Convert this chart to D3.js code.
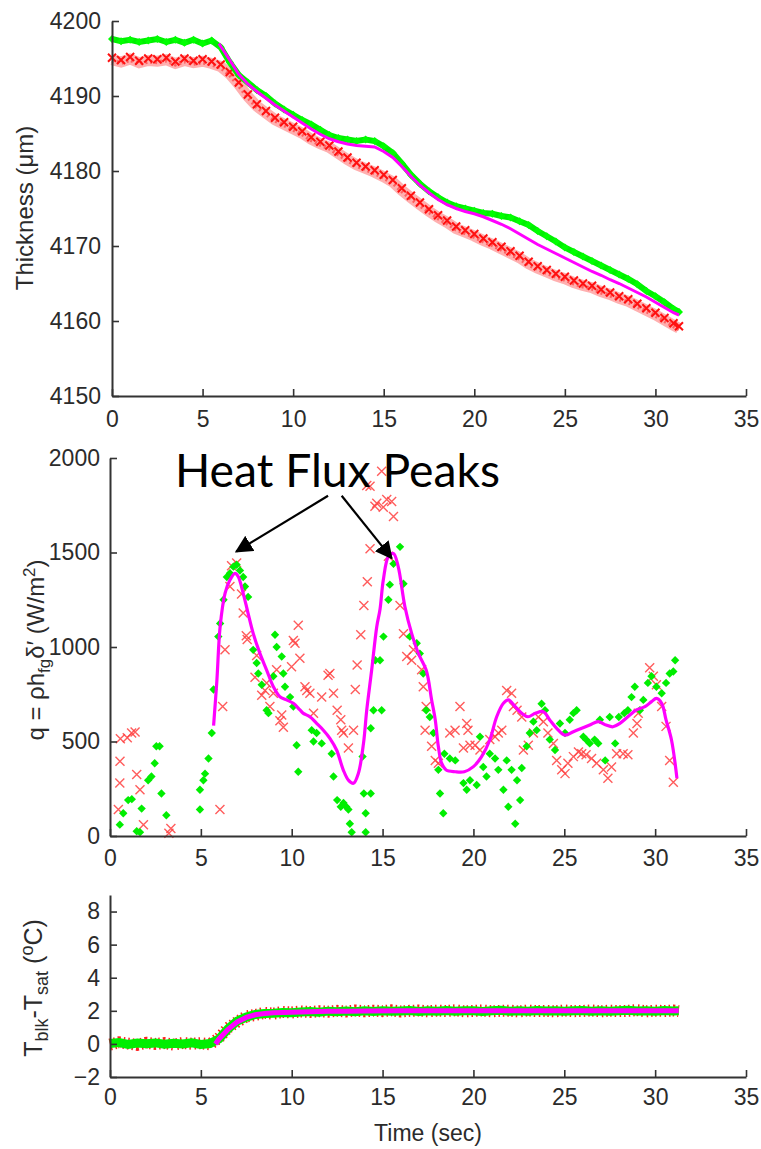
<!DOCTYPE html>
<html><head><meta charset="utf-8">
<script src="https://cdn.jsdelivr.net/npm/d3@7"></script>
<style>body{margin:0;background:#fff}svg{display:block}</style>
</head><body>
<svg id="chart" width="761" height="1149"></svg>
<script>
// ---------- DATA ----------
const xTicks = [0,5,10,15,20,25,30,35];
const thickTicks = [4150,4160,4170,4180,4190,4200];
const fluxTicks = [0,500,1000,1500,2000];
const tempTicks = [-2,0,2,4,6,8];

const timeGrid = [0,0.5,1,1.5,2,2.5,3,3.5,4,4.5,5,5.5,6,6.5,7,7.5,8,8.5,9,9.5,10,10.5,11,11.5,12,12.5,13,13.5,14,14.5,15,15.5,16,16.5,17,17.5,18,18.5,19,19.5,20,20.5,21,21.5,22,22.5,23,23.5,24,24.5,25,25.5,26,26.5,27,27.5,28,28.5,29,29.5,30,30.5,31,31.3];

const thickGreen = [4197.6,4197.3,4197.5,4197.2,4197.4,4197.6,4197.2,4197.5,4197.1,4197.5,4197.0,4197.4,4196.5,4194.5,4192.8,4191.8,4190.8,4190.0,4189.0,4188.2,4187.5,4186.8,4186.2,4185.5,4184.8,4184.4,4184.2,4184.0,4184.2,4184.0,4183.3,4182.4,4181.0,4179.5,4178.3,4177.3,4176.5,4175.8,4175.3,4175.0,4174.7,4174.4,4174.3,4174.0,4173.8,4173.3,4172.8,4172.0,4171.3,4170.6,4169.8,4169.2,4168.6,4168.0,4167.4,4166.8,4166.2,4165.6,4164.9,4164.0,4163.3,4162.5,4161.6,4161.2];
const thickRed = [4195.1,4194.8,4195.2,4194.7,4195.0,4194.9,4195.1,4194.6,4195.0,4194.7,4194.9,4194.6,4194.2,4193.2,4191.8,4190.2,4188.9,4188.0,4187.1,4186.5,4185.9,4185.3,4184.5,4183.9,4183.4,4182.6,4181.8,4181.1,4180.6,4180.1,4179.5,4178.8,4177.7,4176.7,4175.8,4174.9,4174.1,4173.4,4172.6,4172.1,4171.6,4171.0,4170.5,4169.9,4169.3,4168.7,4167.9,4167.3,4166.8,4166.3,4165.9,4165.4,4165.0,4164.7,4164.2,4163.8,4163.3,4162.9,4162.3,4161.7,4161.1,4160.4,4159.7,4159.3];
const thickFitTime = [5.9,6.5,7,7.5,8,8.5,9,9.5,10,10.5,11,11.5,12,12.5,13,13.5,14,14.5,15,15.5,16,16.5,17,17.5,18,18.5,19,19.5,20,20.5,21,21.5,22,22.5,23,23.5,24,24.5,25,25.5,26,26.5,27,27.5,28,28.5,29,29.5,30,30.5,31,31.3];
const thickFit = [4197.0,4194.8,4192.9,4191.6,4190.6,4189.7,4188.8,4188.0,4187.2,4186.4,4185.6,4184.9,4184.3,4183.9,4183.6,4183.4,4183.3,4183.2,4182.6,4181.8,4180.6,4179.3,4178.1,4177.1,4176.2,4175.5,4175.0,4174.6,4174.3,4173.9,4173.4,4172.9,4172.3,4171.6,4170.9,4170.2,4169.6,4169.0,4168.4,4167.8,4167.2,4166.6,4166.1,4165.5,4165.0,4164.4,4163.8,4163.2,4162.5,4161.8,4161.1,4160.8];

const fluxRed = [[0.46,140],[0.54,280],[0.55,395],[0.57,515],[0.95,520],[1.19,545],[1.38,550],[1.47,325],[1.65,245],[1.84,60],[3.24,15],[3.35,40],
[6.05,140],[6.2,685],[6.33,985],[6.6,1320],[6.69,1430],[6.97,1445],[7.24,1280],[7.33,1180],[7.5,1060],[7.55,1040],[7.98,840],[8.07,955],[8.35,745],[8.53,770],[8.62,810],[8.8,685],[8.99,755],[9.17,880],[9.35,610],[9.45,640],[9.54,575],[9.99,895],[10.09,1035],[10.18,1020],[10.36,1115],[10.45,940],[10.73,790],[10.83,770],[11.0,755],[11.2,650],[11.65,735],[12.0,850],[12.1,860],[12.3,755],[12.5,665],[12.7,615],[12.75,560],[12.85,545],[13.12,465],[13.4,560],[13.5,775],[13.6,905],[13.8,1065],[13.97,1220],[14.16,1345],[14.13,1855],[14.31,1850],[14.31,1520],[14.58,1745],[14.68,1760],[14.95,1930],[15.04,1740],[15.23,1780],[15.32,1480],[15.5,1770],[15.6,1690],[15.96,1220],[16.15,1070],[16.33,950],[16.6,930],[16.7,985],[17.15,880],[17.24,790],[17.4,685],[17.34,560],[17.7,475],[17.9,400],[18.07,385],[18.7,545],[18.99,560],[19.26,685],[19.63,595],[19.7,560],[19.45,465],[19.81,480],[20.09,480],[20.36,455],[20.9,510],[21.19,525],[21.37,545],[21.56,560],[21.83,770],[22.1,755],[22.2,685],[22.4,665],[22.66,630],[22.75,455],[23.02,480],[23.3,545],[23.57,630],[23.85,605],[24.1,545],[24.4,490],[24.58,400],[24.86,350],[25.04,330],[25.2,385],[25.5,420],[25.78,445],[25.96,435],[26.2,430],[26.5,410],[26.78,385],[27.15,350],[27.4,305],[27.6,365],[27.88,435],[28.24,435],[28.5,430],[28.8,545],[29.0,595],[29.07,650],[29.7,890],[29.9,845],[30.07,800],[30.36,685],[30.6,580],[30.8,400],[31.0,285]];
const fluxGreen = [[0.54,60],[0.73,120],[1.0,190],[1.2,195],[1.47,25],[1.65,20],[1.74,145],[2.1,295],[2.28,315],[2.46,385],[2.55,475],[2.73,475],[2.83,225],[3.1,110],
[4.95,140],[4.95,245],[5.14,295],[5.23,330],[5.42,410],[5.6,545],[5.7,775],[5.96,1055],[6.06,1125],[6.25,1250],[6.43,1370],[6.6,1390],[6.79,1425],[6.97,1435],[7.15,1405],[7.33,1370],[7.43,1320],[7.6,1265],[7.88,985],[8.07,915],[8.16,860],[8.35,800],[8.62,665],[8.72,650],[8.99,845],[9.08,1065],[9.17,1000],[9.45,950],[9.54,860],[9.63,790],[9.91,735],[10.09,685],[10.27,480],[10.36,340],[11.1,560],[11.2,500],[11.37,545],[11.65,490],[12.2,435],[12.3,315],[12.5,190],[12.7,155],[12.85,175],[13.0,155],[13.12,140],[13.2,65],[13.3,20],[13.9,420],[13.97,225],[14.07,120],[14.07,20],[14.35,225],[14.35,570],[14.5,665],[14.6,930],[14.86,930],[14.95,665],[15.05,1055],[15.32,1250],[15.4,1330],[15.6,1440],[15.96,1530],[16.15,1335],[16.5,1055],[16.88,1020],[17.05,965],[17.24,860],[17.4,665],[17.6,630],[17.8,545],[18.07,350],[18.16,225],[18.34,120],[18.4,435],[18.7,410],[19.0,400],[19.45,280],[19.63,245],[19.81,295],[20.18,270],[20.36,525],[20.54,365],[20.72,315],[20.9,435],[21.19,410],[21.37,350],[21.65,245],[21.83,400],[21.92,155],[22.1,350],[22.3,65],[22.4,295],[22.57,190],[22.66,360],[22.93,475],[23.1,545],[23.3,605],[23.48,560],[23.75,700],[23.94,665],[24.2,510],[24.49,455],[24.76,595],[25.04,545],[25.3,615],[25.5,650],[25.68,665],[26.05,525],[26.2,510],[26.4,490],[26.67,510],[26.87,490],[26.96,615],[27.25,400],[27.5,630],[27.8,490],[28.0,630],[28.3,650],[28.5,665],[28.7,735],[28.88,790],[29.16,665],[29.35,720],[29.6,810],[29.8,845],[30.07,790],[30.36,755],[30.6,810],[30.8,860],[31.0,870],[31.1,930]];
const fluxFit = [[5.7,584],[5.88,820],[6.06,1107],[6.33,1284],[6.6,1354],[6.88,1390],[7.06,1372],[7.33,1284],[7.6,1178],[7.88,1072],[8.25,966],[8.62,878],[8.99,790],[9.35,737],[9.72,720],[10.09,702],[10.45,667],[10.64,649],[11.0,631],[11.37,596],[11.73,561],[12.1,517],[12.47,455],[12.84,349],[13.12,296],[13.4,279],[13.67,332],[13.95,490],[14.13,667],[14.4,878],[14.68,1107],[14.86,1200],[15.04,1354],[15.32,1478],[15.6,1495],[15.86,1425],[16.23,1213],[16.6,1072],[16.97,966],[17.4,878],[17.7,720],[17.9,614],[18.07,473],[18.25,385],[18.5,349],[19.0,340],[19.5,340],[20.0,367],[20.45,420],[20.9,508],[21.28,631],[21.65,702],[21.92,720],[22.3,684],[22.66,649],[23.0,631],[23.4,649],[23.85,658],[24.2,614],[24.58,570],[25.04,534],[25.5,552],[25.96,570],[26.4,587],[26.87,605],[27.3,587],[27.68,578],[28.06,596],[28.5,631],[28.97,667],[29.44,684],[29.8,711],[30.07,728],[30.36,702],[30.6,614],[30.9,508],[31.2,305]];

const tempGreen = [0.02,0.08,-0.03,0.05,0.01,0.06,-0.02,0.04,0.0,0.07,-0.03,0.02,0.3,0.92,1.38,1.62,1.78,1.84,1.86,1.9,1.88,1.93,1.96,1.92,1.98,1.94,1.99,1.95,2.0,1.96,2.01,1.97,1.99,2.02,1.96,2.0,1.98,2.02,1.97,2.0,2.01,1.96,2.0,2.03,1.98,2.0,1.97,2.02,1.99,2.01,1.97,2.0,2.02,1.98,2.0,1.97,2.01,2.03,1.99,2.0,1.98,2.02,1.99,2.0];
const tempRed = [-0.04,0.1,0.02,-0.06,0.07,0.0,0.05,-0.05,0.06,0.01,0.04,-0.02,0.36,0.98,1.33,1.66,1.75,1.88,1.83,1.93,1.9,1.96,1.93,1.97,1.95,2.0,1.96,2.02,1.97,2.01,1.98,2.03,1.96,2.0,2.02,1.97,2.01,1.99,2.03,1.97,1.99,2.02,1.97,2.0,2.01,1.96,2.02,1.98,2.0,1.97,2.02,1.98,1.99,2.02,1.97,2.01,1.98,2.0,2.04,1.97,2.01,1.99,2.02,1.98];
const tempFitTime = [5.8,6,6.5,7,7.5,8,8.5,9,10,11,12,13,14,16,18,20,22,24,26,28,30,31.3];
const tempFit = [0.0,0.3,0.88,1.33,1.6,1.76,1.84,1.88,1.92,1.95,1.97,1.98,1.99,2.0,2.0,2.0,2.0,2.0,2.0,2.0,2.0,2.0];

// ---------- DRAW ----------
const svg = d3.select('#chart');
svg.append('rect').attr('width',761).attr('height',1149).attr('fill','#fff');
const FONT = "'Liberation Sans', Arial, sans-serif";
const AX = '#333';

function axes(x, y, yTicks, padX, padY) {
  const gx = svg.append('g').attr('transform',`translate(0,${y.range()[0]})`);
  gx.call(d3.axisBottom(x).tickValues(d3.range(0,36,1)).tickSize(-4).tickSizeOuter(0).tickFormat(''));
  gx.call(d3.axisBottom(x).tickValues(xTicks).tickSize(-7).tickSizeOuter(0).tickPadding(padX).tickFormat(d3.format('d')));
  const gy = svg.append('g').attr('transform',`translate(${x.range()[0]},0)`);
  gy.call(d3.axisLeft(y).tickValues(yTicks).tickSize(-7).tickSizeOuter(0).tickPadding(padY).tickFormat(d3.format('d')));
  [gx,gy].forEach(g=>{
    g.selectAll('path.domain').attr('stroke',AX).attr('stroke-width',2);
    g.selectAll('line').attr('stroke',AX).attr('stroke-width',1.6);
    g.selectAll('text').attr('fill','#2b2b2b').style('font-family',FONT).style('font-size','23px');
  });
}
function xMark(sel, size){ // draw "x" markers
  sel.append('path').attr('d',`M${-size},${-size}L${size},${size}M${-size},${size}L${size},${-size}`);
}
const diamond = r => `M0,${-r}L${r},0L0,${r}L${-r},0Z`;

// ===== Panel 1: Thickness =====
const x1 = d3.scaleLinear().domain([0,35]).range([112,746]);
const y1 = d3.scaleLinear().domain([4150,4200]).range([396,21]);
const line1 = d3.line().x(d=>x1(d[0])).y(d=>y1(d[1]));
const redPts1 = timeGrid.map((t,i)=>[t,thickRed[i]]);
const greenPts1 = timeGrid.map((t,i)=>[t,thickGreen[i]]);
svg.append('path').datum(redPts1).attr('d',line1).attr('fill','none').attr('stroke','#ffb0b0').attr('stroke-width',11)
  .attr('transform','translate(0,2)');
svg.append('path').datum(redPts1).attr('d',line1).attr('fill','none').attr('stroke','#ff6060').attr('stroke-width',4).attr('stroke-dasharray','2 3')
  .attr('transform','translate(0,3)');
svg.append('g').attr('stroke','#ff1010').attr('stroke-width',2).selectAll('g').data(redPts1).join('g')
  .attr('transform',d=>`translate(${x1(d[0])},${y1(d[1])})`).call(xMark,4);
svg.append('path').datum(greenPts1).attr('d',line1).attr('fill','none').attr('stroke','#00f000').attr('stroke-width',6);
svg.append('g').selectAll('path').data(greenPts1).join('path').attr('fill','#00ff00')
  .attr('transform',d=>`translate(${x1(d[0])},${y1(d[1])})`).attr('d',diamond(4));
svg.append('path').datum(thickFitTime.map((t,i)=>[t,thickFit[i]])).attr('d',line1)
  .attr('fill','none').attr('stroke','#ff00ff').attr('stroke-width',3);
axes(x1,y1,thickTicks,15,11);
svg.append('text').attr('transform','translate(33,208) rotate(-90)').attr('text-anchor','middle')
  .style('font-family',FONT).style('font-size','24px').attr('fill','#2b2b2b').text('Thickness (\u03bcm)');

// ===== Panel 2: Heat flux =====
const x2 = d3.scaleLinear().domain([0,35]).range([110,746]);
const y2 = d3.scaleLinear().domain([0,2000]).range([836,458]);
svg.append('g').attr('stroke','#ff4040').attr('stroke-opacity',0.85).attr('stroke-width',1.4)
  .selectAll('g').data(fluxRed).join('g')
  .attr('transform',d=>`translate(${x2(d[0])},${y2(d[1])})`).call(xMark,4.5);
svg.append('g').selectAll('path').data(fluxGreen).join('path').attr('fill','#00ee00')
  .attr('transform',d=>`translate(${x2(d[0])},${y2(d[1])})`).attr('d',diamond(4.2));
svg.append('path').datum(fluxFit).attr('d',d3.line().x(d=>x2(d[0])).y(d=>y2(d[1])).curve(d3.curveCatmullRom))
  .attr('fill','none').attr('stroke','#ff00ff').attr('stroke-width',3.2);
axes(x2,y2,fluxTicks,14,10);
const lab2 = svg.append('text').attr('transform','translate(44,650) rotate(-90)').attr('text-anchor','middle')
  .style('font-family',FONT).style('font-size','24px').attr('fill','#2b2b2b');
lab2.append('tspan').text('q = \u03c1h');
lab2.append('tspan').attr('dy',6).style('font-size','17px').text('fg');
lab2.append('tspan').attr('dy',-6).text('\u03b4\u2032 (W/m');
lab2.append('tspan').attr('dy',-9).style('font-size','17px').text('2');
lab2.append('tspan').attr('dy',9).text(')');

// annotation
svg.append('text').attr('x',175).attr('y',487).attr('textLength',325).attr('lengthAdjust','spacingAndGlyphs')
  .style('font-family',"Lato, 'Open Sans', sans-serif").style('font-size','46px').attr('fill','#000').text('Heat Flux Peaks');
const defs = svg.append('defs');
defs.append('marker').attr('id','ah').attr('viewBox','0 0 10 10').attr('refX',9).attr('refY',5)
  .attr('markerWidth',8).attr('markerHeight',8).attr('orient','auto')
  .append('path').attr('d','M0,0L10,5L0,10Z').attr('fill','#000');
const arrows = [[[12.0,1800],[6.95,1505]],[[12.75,1800],[15.5,1470]]];
arrows.forEach(a=>{
  svg.append('line').attr('x1',x2(a[0][0])).attr('y1',y2(a[0][1])).attr('x2',x2(a[1][0])).attr('y2',y2(a[1][1]))
    .attr('stroke','#000').attr('stroke-width',2.2).attr('marker-end','url(#ah)');
});

// ===== Panel 3: Temperature =====
const x3 = d3.scaleLinear().domain([0,35]).range([110,746]);
const y3 = d3.scaleLinear().domain([-2,9]).range([1077,895]);
const line3 = d3.line().x(d=>x3(d[0])).y(d=>y3(d[1]));
svg.append('path').datum(timeGrid.map((t,i)=>[t,tempRed[i]])).attr('d',line3).attr('fill','none')
  .attr('stroke','#ff2020').attr('stroke-width',12).attr('stroke-dasharray','1.5 3');
svg.append('path').datum(timeGrid.map((t,i)=>[t,tempGreen[i]])).attr('d',line3).attr('fill','none')
  .attr('stroke','#00ee00').attr('stroke-width',9);
svg.append('path').datum(tempFitTime.map((t,i)=>[t,tempFit[i]])).attr('d',line3).attr('fill','none')
  .attr('stroke','#ff00ff').attr('stroke-width',5);
axes(x3,y3,tempTicks,12,10);
const lab3 = svg.append('text').attr('transform','translate(42,988) rotate(-90)').attr('text-anchor','middle')
  .style('font-family',FONT).style('font-size','25px').attr('fill','#2b2b2b');
lab3.append('tspan').text('T');
lab3.append('tspan').attr('dy',6).style('font-size','18px').text('blk');
lab3.append('tspan').attr('dy',-6).text('-T');
lab3.append('tspan').attr('dy',6).style('font-size','18px').text('sat');
lab3.append('tspan').attr('dy',-6).text(' (');
lab3.append('tspan').attr('dy',-9).style('font-size','18px').text('o');
lab3.append('tspan').attr('dy',9).text('C)');
svg.append('text').attr('x',428).attr('y',1141).attr('text-anchor','middle')
  .style('font-family',FONT).style('font-size','23px').attr('fill','#2b2b2b').text('Time (sec)');
</script>
</body></html>
